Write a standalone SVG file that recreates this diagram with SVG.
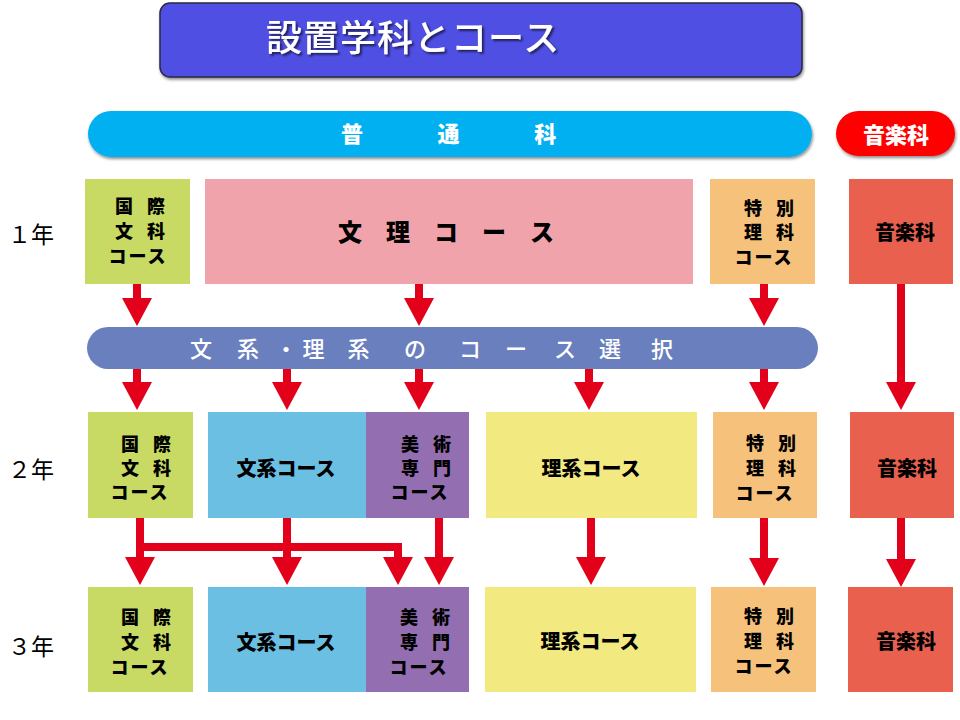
<svg xmlns="http://www.w3.org/2000/svg" width="960" height="720" viewBox="0 0 960 720">
<defs>
<filter id="sh" x="-5%" y="-20%" width="110%" height="150%"><feDropShadow dx="1" dy="2" stdDeviation="1.5" flood-color="#000" flood-opacity="0.45"/></filter>
<filter id="tsh" x="-5%" y="-20%" width="110%" height="150%"><feDropShadow dx="2" dy="2" stdDeviation="1.2" flood-color="#000" flood-opacity="0.6"/></filter>
<marker id="ah" markerUnits="userSpaceOnUse" markerWidth="28" markerHeight="30" refX="1" refY="15" orient="auto"><path d="M0,0 L28,15 L0,30 Z" fill="#E3001B"/></marker>
</defs>
<style>
text{font-family:"Noto Sans CJK JP","Noto Sans CJK SC",sans-serif}
.bx{font-weight:900;fill:#000;text-anchor:middle}
.s{font-size:18px}
.sp{letter-spacing:-2px}
.ks{letter-spacing:2px}
.m{font-size:20px}
.yr{font-size:23px;font-weight:400;fill:#000}
.wt{fill:#fff}
.ar{stroke:#E3001B;stroke-width:8;fill:none;marker-end:url(#ah)}
.g{fill:#C8DA64}.p{fill:#F1A3AC}.o{fill:#F6C27B}.c{fill:#E9604F}.b{fill:#6BBFE3}.v{fill:#936FB1}.y{fill:#F3E981}
</style>

<g id="title">
<rect x="160" y="3" width="642" height="74" rx="10" fill="#5050E4" stroke="#2a2a40" stroke-width="1.5" filter="url(#sh)"/>
<text x="266" y="51" class="wt" font-size="36" font-weight="500" letter-spacing="1" filter="url(#tsh)">設置学科とコース</text>
</g>

<g id="futsuka">
<rect x="88" y="111" width="724" height="46" rx="23" fill="#00B0F0" filter="url(#sh)"/>
<text x="341" y="142" class="wt" font-size="22" font-weight="900" letter-spacing="10.2">普　　通　　科</text>
</g>

<g id="ongakuka-head">
<rect x="836" y="111" width="119" height="45" rx="22.5" fill="#FF0000" filter="url(#sh)"/>
<text x="896" y="143" class="wt" font-size="22" font-weight="900" text-anchor="middle">音楽科</text>
</g>

<g id="years">
<text x="8" y="243" class="yr">１年</text>
<text x="8" y="478" class="yr">２年</text>
<text x="8" y="655" class="yr">３年</text>
</g>

<g id="connectors">
<line class="ar" x1="137" y1="284" x2="137" y2="299"/>
<line class="ar" x1="419" y1="284" x2="419" y2="299"/>
<line class="ar" x1="764" y1="284" x2="764" y2="299"/>
<line class="ar" x1="137" y1="369" x2="137" y2="383"/>
<line class="ar" x1="287" y1="369" x2="287" y2="383"/>
<line class="ar" x1="419" y1="369" x2="419" y2="383"/>
<line class="ar" x1="589" y1="369" x2="589" y2="383"/>
<line class="ar" x1="764" y1="369" x2="764" y2="383"/>
<line class="ar" x1="901" y1="284" x2="901" y2="383"/>
<line class="ar" x1="140" y1="518" x2="140" y2="558"/>
<line class="ar" x1="287" y1="518" x2="287" y2="558"/>
<line class="ar" x1="439" y1="518" x2="439" y2="558"/>
<line class="ar" x1="591" y1="518" x2="591" y2="558"/>
<line class="ar" x1="764" y1="518" x2="764" y2="559"/>
<line class="ar" x1="901" y1="518" x2="901" y2="560"/>
<path class="ar" d="M140,547 H398 V558" stroke-linejoin="miter"/>
</g>

<g id="sentaku">
<rect x="87" y="327" width="731" height="42" rx="21" fill="#6A7FBE"/>
<text x="201 248 286 313.5 358.5 415 470 516 565 610 662" y="357" class="wt" font-size="22" font-weight="500" text-anchor="middle">文系・理系のコース選択</text>
</g>

<g id="r1-kokusai">
<rect class="g" x="85" y="179" width="105" height="105"/>
<text class="bx s sp" x="139" y="213">国　際</text>
<text class="bx s sp" x="139" y="238">文　科</text>
<text class="bx s ks" x="138" y="262.5">コース</text>
</g>
<g id="r1-bunri">
<rect class="p" x="205" y="179" width="488" height="105"/>
<text x="338" y="241" font-size="24" font-weight="900" fill="#000">文　理　コ　ー　ス</text>
</g>
<g id="r1-tokubetsu">
<rect class="o" x="710" y="179" width="105" height="105"/>
<text class="bx s sp" x="768" y="215">特　別</text>
<text class="bx s sp" x="768" y="239">理　科</text>
<text class="bx s ks" x="764" y="263.5">コース</text>
</g>
<g id="r1-ongaku">
<rect class="c" x="849" y="179" width="104" height="105"/>
<text class="bx m" x="905" y="239.5">音楽科</text>
</g>

<g id="r2-kokusai">
<rect class="g" x="88" y="412" width="105" height="106"/>
<text class="bx s sp" x="145" y="451">国　際</text>
<text class="bx s sp" x="145" y="475">文　科</text>
<text class="bx s ks" x="140" y="498.5">コース</text>
</g>
<g id="r2-bunkei">
<rect class="b" x="208" y="412" width="158" height="106"/>
<text class="bx m" x="286" y="476">文系コース</text>
</g>
<g id="r2-bijutsu">
<rect class="v" x="366" y="412" width="103" height="106"/>
<text class="bx s sp" x="425" y="451">美　術</text>
<text class="bx s sp" x="425" y="475">専　門</text>
<text class="bx s ks" x="420" y="498.5">コース</text>
</g>
<g id="r2-rikei">
<rect class="y" x="486" y="412" width="211" height="106"/>
<text class="bx m" x="591" y="476">理系コース</text>
</g>
<g id="r2-tokubetsu">
<rect class="o" x="713" y="412" width="104" height="106"/>
<text class="bx s sp" x="770" y="450">特　別</text>
<text class="bx s sp" x="770" y="475">理　科</text>
<text class="bx s ks" x="765" y="500">コース</text>
</g>
<g id="r2-ongaku">
<rect class="c" x="850" y="412" width="104" height="106"/>
<text class="bx m" x="907" y="476">音楽科</text>
</g>

<g id="r3-kokusai">
<rect class="g" x="88" y="587" width="105" height="105"/>
<text class="bx s sp" x="145" y="624">国　際</text>
<text class="bx s sp" x="145" y="649">文　科</text>
<text class="bx s ks" x="140" y="674">コース</text>
</g>
<g id="r3-bunkei">
<rect class="b" x="208" y="587" width="158" height="105"/>
<text class="bx m" x="286" y="649.5">文系コース</text>
</g>
<g id="r3-bijutsu">
<rect class="v" x="366" y="587" width="103" height="105"/>
<text class="bx s sp" x="424" y="624">美　術</text>
<text class="bx s sp" x="424" y="649">専　門</text>
<text class="bx s ks" x="419" y="674">コース</text>
</g>
<g id="r3-rikei">
<rect class="y" x="485" y="587" width="211" height="105"/>
<text class="bx m" x="590" y="649">理系コース</text>
</g>
<g id="r3-tokubetsu">
<rect class="o" x="711" y="587" width="105" height="105"/>
<text class="bx s sp" x="768" y="623">特　別</text>
<text class="bx s sp" x="768" y="648">理　科</text>
<text class="bx s ks" x="764" y="673">コース</text>
</g>
<g id="r3-ongaku">
<rect class="c" x="848" y="587" width="105" height="105"/>
<text class="bx m" x="906" y="649">音楽科</text>
</g>
</svg>
